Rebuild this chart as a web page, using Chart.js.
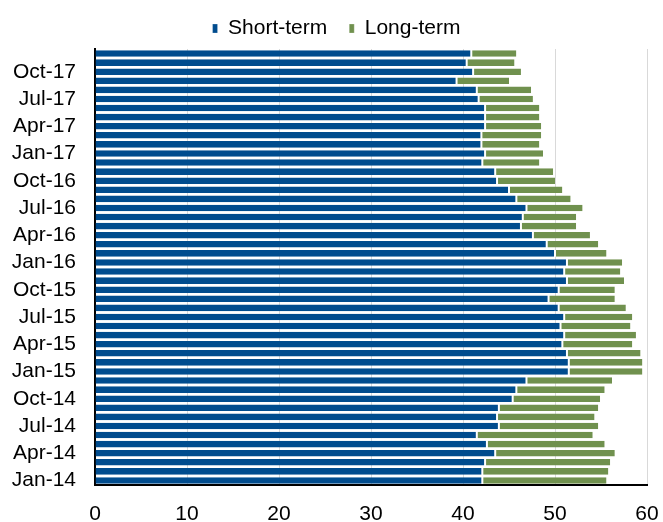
<!DOCTYPE html>
<html>
<head>
<meta charset="utf-8">
<title>Short-term and long-term</title>
<script src="https://cdn.jsdelivr.net/npm/chart.js@4/dist/chart.umd.min.js"></script>
<style>
  html, body { margin: 0; padding: 0; background: #fff; }
  #wrap { width: 663px; height: 522px; }
</style>
</head>
<body>
<div id="wrap"><canvas id="chart" width="663" height="522"></canvas></div>
<script>
// Months, Jan-14 through Dec-17
const months = [
  'Jan-14','Feb-14','Mar-14','Apr-14','May-14','Jun-14','Jul-14','Aug-14','Sep-14','Oct-14','Nov-14','Dec-14',
  'Jan-15','Feb-15','Mar-15','Apr-15','May-15','Jun-15','Jul-15','Aug-15','Sep-15','Oct-15','Nov-15','Dec-15',
  'Jan-16','Feb-16','Mar-16','Apr-16','May-16','Jun-16','Jul-16','Aug-16','Sep-16','Oct-16','Nov-16','Dec-16',
  'Jan-17','Feb-17','Mar-17','Apr-17','May-17','Jun-17','Jul-17','Aug-17','Sep-17','Oct-17','Nov-17','Dec-17'
];

// Only quarter months get a label on the category axis
const labelledMonths = ['Jan', 'Apr', 'Jul', 'Oct'];

const shortTerm = [
  42.1, 42.1, 42.4, 43.5, 42.6, 41.5, 43.9, 43.7, 43.9, 45.4, 45.8, 46.9,
  51.5, 51.5, 51.3, 50.8, 51.0, 50.6, 51.0, 50.4, 49.3, 50.4, 51.3, 51.0,
  51.3, 50.0, 49.1, 47.6, 46.3, 46.5, 46.9, 45.8, 45.0, 43.7, 43.5, 42.1,
  42.4, 42.0, 42.0, 42.4, 42.4, 42.4, 41.7, 41.5, 39.3, 41.1, 40.4, 40.9
];

const longTerm = [
  13.5, 13.7, 13.6, 13.0, 12.8, 12.6, 10.8, 10.6, 10.8, 9.5, 9.6, 9.3,
  8.0, 8.0, 8.0, 7.6, 7.8, 7.6, 7.4, 7.3, 7.2, 6.1, 6.2, 6.1,
  6.0, 5.6, 5.6, 6.2, 6.0, 5.8, 6.1, 5.9, 5.8, 6.3, 6.3, 6.2,
  6.3, 6.3, 6.5, 6.1, 5.9, 5.9, 5.9, 5.9, 5.7, 5.2, 5.2, 4.9
];

const valueTicks = [0, 10, 20, 30, 40, 50, 60];

const FONT = { family: "'Liberation Sans', Arial, sans-serif", size: 21 };

// Fixed axis band sizes so the plot area sits in a stable place
const Y_AXIS_WIDTH = 95;
const X_AXIS_HEIGHT = 37;
// The legend is centred over the whole canvas rather than the padded layout box
const LEGEND_SHIFT = 13;

function noOverflowPadding(scale) {
  scale.paddingLeft = 0;
  scale.paddingRight = 0;
  scale.paddingTop = 0;
  scale.paddingBottom = 0;
}

const legendOffset = {
  id: 'legendOffset',
  afterLayout(chart) {
    if (chart.legend) {
      chart.legend.left += LEGEND_SHIFT;
      chart.legend.right += LEGEND_SHIFT;
    }
  }
};

new Chart(document.getElementById('chart'), {
  type: 'bar',
  data: {
    labels: months,
    datasets: [
      {
        label: 'Short-term',
        data: shortTerm,
        backgroundColor: '#004C8E',
        borderColor: '#ffffff',
        borderWidth: { right: 1, left: 0, top: 0, bottom: 0 },
        borderSkipped: false,
        barPercentage: 0.72,
        categoryPercentage: 1
      },
      {
        label: 'Long-term',
        data: longTerm,
        backgroundColor: '#70914E',
        borderColor: '#ffffff',
        borderWidth: { left: 1, right: 0, top: 0, bottom: 0 },
        borderSkipped: false,
        barPercentage: 0.72,
        categoryPercentage: 1
      }
    ]
  },
  plugins: [legendOffset],
  options: {
    indexAxis: 'y',
    responsive: false,
    devicePixelRatio: 1,
    animation: false,
    layout: { padding: { top: -4, right: 16, left: 0, bottom: 0 } },
    plugins: {
      legend: {
        position: 'top',
        align: 'center',
        labels: {
          font: FONT,
          color: '#000',
          boxWidth: 5,
          boxHeight: 9,
          padding: 22,
          useBorderRadius: false
        }
      },
      tooltip: { enabled: false }
    },
    scales: {
      x: {
        stacked: true,
        min: 0,
        max: 60,
        afterBuildTicks: (axis) => { axis.ticks = valueTicks.map(v => ({ value: v })); },
        afterFit: (scale) => { scale.height = X_AXIS_HEIGHT; noOverflowPadding(scale); },
        ticks: { font: FONT, color: '#000', padding: 17, maxRotation: 0 },
        grid: { color: '#d9d9d9', lineWidth: 1, drawTicks: false },
        border: { display: true, color: '#000', width: 2 }
      },
      y: {
        stacked: true,
        reverse: true,
        afterFit: (scale) => { scale.width = Y_AXIS_WIDTH; noOverflowPadding(scale); },
        ticks: {
          font: FONT,
          color: '#000',
          autoSkip: false,
          padding: 19,
          callback: function (value) {
            const m = months[value];
            return labelledMonths.includes(m.slice(0, 3)) ? m : '';
          }
        },
        grid: { display: false, drawTicks: false },
        border: { display: true, color: '#000', width: 2 }
      }
    }
  }
});
</script>
</body>
</html>
